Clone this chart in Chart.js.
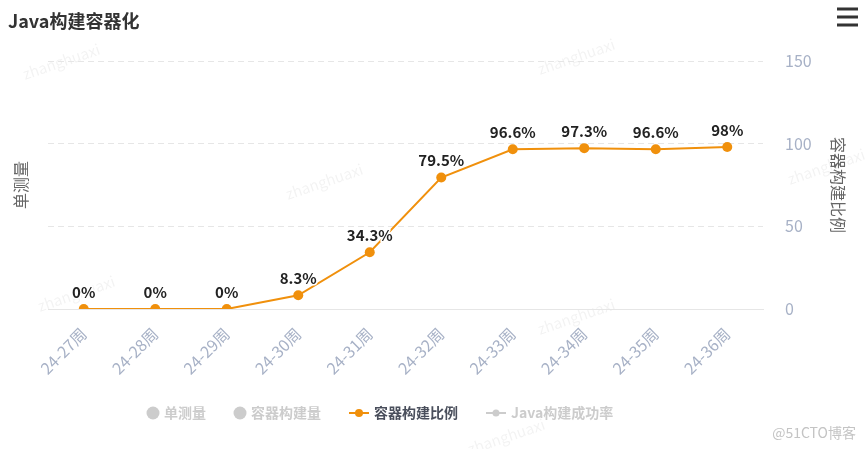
<!DOCTYPE html>
<html>
<head>
<meta charset="utf-8">
<script src="https://cdn.jsdelivr.net/npm/chart.js@4/dist/chart.umd.min.js"></script>
<style>
    html, body { margin: 0; padding: 0; background: #fff; }
    #wrap { position: relative; width: 865px; height: 449px; }
</style>
</head>
<body>
<div id="wrap"><canvas id="ratioChart"></canvas></div>
<script>
// Data
const weeks = ['24-27周', '24-28周', '24-29周', '24-30周', '24-31周', '24-32周', '24-33周', '24-34周', '24-35周', '24-36周'];
const containerRatio = [0, 0, 0, 8.3, 34.3, 79.5, 96.6, 97.3, 96.6, 98];
const ratioTicks = [0, 50, 100, 150];
const seriesNames = ['单测量', '容器构建量', '容器构建比例', 'Java构建成功率'];

const chartTitle = 'Java构建容器化';
const leftAxisTitle = '单测量';
const rightAxisTitle = '容器构建比例';

const FONT = '"Noto Sans CJK SC", "Noto Sans", sans-serif';
const orange = '#f0900c';
const mutedGray = '#cccccc';

// Title, legend, watermarks, menu icon
const decorations = {
    id: 'decorations',
    beforeDraw(chart) {
        const ctx = chart.ctx;
        ctx.save();
        ctx.font = '15px ' + FONT;
        ctx.fillStyle = 'rgba(0,0,0,0.05)';
        const marks = [[25, 80], [540, 75], [288, 200], [790, 185], [40, 312], [540, 335], [470, 455]];
        marks.forEach(([x, y]) => {
            ctx.save();
            ctx.translate(x, y);
            ctx.rotate(-0.33);
            ctx.fillText('zhanghuaxi', 0, 0);
            ctx.restore();
        });
        ctx.restore();
    },
    afterDraw(chart) {
        const ctx = chart.ctx;
        ctx.save();

        // title
        ctx.font = 'bold 18px ' + FONT;
        ctx.fillStyle = '#333333';
        ctx.textBaseline = 'middle';
        ctx.textAlign = 'left';
        ctx.fillText(chartTitle, 8, 21);

        // menu icon
        ctx.fillStyle = '#333333';
        [9, 17, 25].forEach(y => ctx.fillRect(837, y - 1.5, 21, 3));

        // legend
        const ly = 413;
        ctx.font = 'bold 14px ' + FONT;
        ctx.textBaseline = 'middle';
        let x = 147;
        seriesNames.forEach((name, i) => {
            if (i < 2) {
                ctx.fillStyle = mutedGray;
                ctx.beginPath();
                ctx.arc(x + 6, ly, 6.5, 0, Math.PI * 2);
                ctx.fill();
                x += 17;
            } else {
                const c = i === 2 ? orange : mutedGray;
                ctx.strokeStyle = c;
                ctx.fillStyle = c;
                ctx.lineWidth = 2;
                ctx.beginPath();
                ctx.moveTo(x, ly);
                ctx.lineTo(x + 20, ly);
                ctx.stroke();
                ctx.beginPath();
                ctx.arc(x + 10, ly, i === 2 ? 4 : 3.5, 0, Math.PI * 2);
                ctx.fill();
                x += 25;
            }
            ctx.fillStyle = i === 2 ? '#4a4f5c' : mutedGray;
            ctx.fillText(name, x, ly);
            x += ctx.measureText(name).width + 28;
        });

        // credit
        ctx.font = '14px ' + FONT;
        ctx.fillStyle = '#c4c4c4';
        ctx.textAlign = 'right';
        ctx.fillText('@51CTO博客', 856, 433);
        ctx.restore();
    }
};

// Percent labels above the points
const pointLabels = {
    id: 'pointLabels',
    afterDatasetsDraw(chart) {
        const ctx = chart.ctx;
        const meta = chart.getDatasetMeta(0);
        ctx.save();
        ctx.font = 'bold 15px ' + FONT;
        ctx.textAlign = 'center';
        ctx.textBaseline = 'middle';
        ctx.lineJoin = 'round';
        meta.data.forEach((pt, i) => {
            const txt = containerRatio[i] + '%';
            ctx.strokeStyle = '#ffffff';
            ctx.lineWidth = 3;
            ctx.strokeText(txt, pt.x, pt.y - 17);
            ctx.fillStyle = '#222222';
            ctx.fillText(txt, pt.x, pt.y - 17);
        });
        ctx.restore();
    }
};

new Chart(document.getElementById('ratioChart'), {
    type: 'line',
    data: {
        labels: weeks,
        datasets: [{
            label: seriesNames[2],
            data: containerRatio,
            yAxisID: 'yRight',
            borderColor: orange,
            backgroundColor: orange,
            borderWidth: 2,
            pointRadius: 5,
            pointHoverRadius: 6,
            pointBackgroundColor: orange,
            pointBorderWidth: 0,
            tension: 0
        }]
    },
    options: {
        responsive: true,
        maintainAspectRatio: false,
        animation: false,
        layout: { padding: { top: 61, bottom: 0, left: 0, right: 0 } },
        plugins: {
            legend: { display: false },
            title: { display: false },
            tooltip: { enabled: false }
        },
        scales: {
            x: {
                offset: true,
                grid: { display: false, offset: true },
                border: { display: true, color: '#e6e6e6', width: 1 },
                ticks: {
                    maxRotation: 45,
                    minRotation: 45,
                    padding: 7,
                    color: '#a7b1c6',
                    font: { family: FONT, size: 16 }
                },
                afterFit(scale) { scale.height = 140; }
            },
            yLeft: {
                position: 'left',
                min: 0,
                max: 150,
                grid: { display: false },
                border: { display: false },
                ticks: { display: false },
                title: {
                    display: true,
                    text: leftAxisTitle,
                    color: '#666666',
                    padding: { top: 11, bottom: 0 },
                    font: { family: FONT, size: 16 }
                },
                afterFit(scale) { scale.width = 48; }
            },
            yRight: {
                position: 'right',
                min: 0,
                max: 150,
                afterBuildTicks(scale) { scale.ticks = ratioTicks.map(v => ({ value: v })); },
                grid: { color: '#e6e6e6', drawTicks: false, lineWidth: 1 },
                border: { display: false, dash: [6, 4] },
                ticks: {
                    padding: 22,
                    color: '#a7b1c6',
                    font: { family: FONT, size: 16 }
                },
                title: {
                    display: true,
                    text: rightAxisTitle,
                    color: '#666666',
                    padding: { top: 17, bottom: 0 },
                    font: { family: FONT, size: 16 }
                },
                afterFit(scale) { scale.width = 102; }
            }
        }
    },
    plugins: [decorations, pointLabels]
});
</script>
</body>
</html>
